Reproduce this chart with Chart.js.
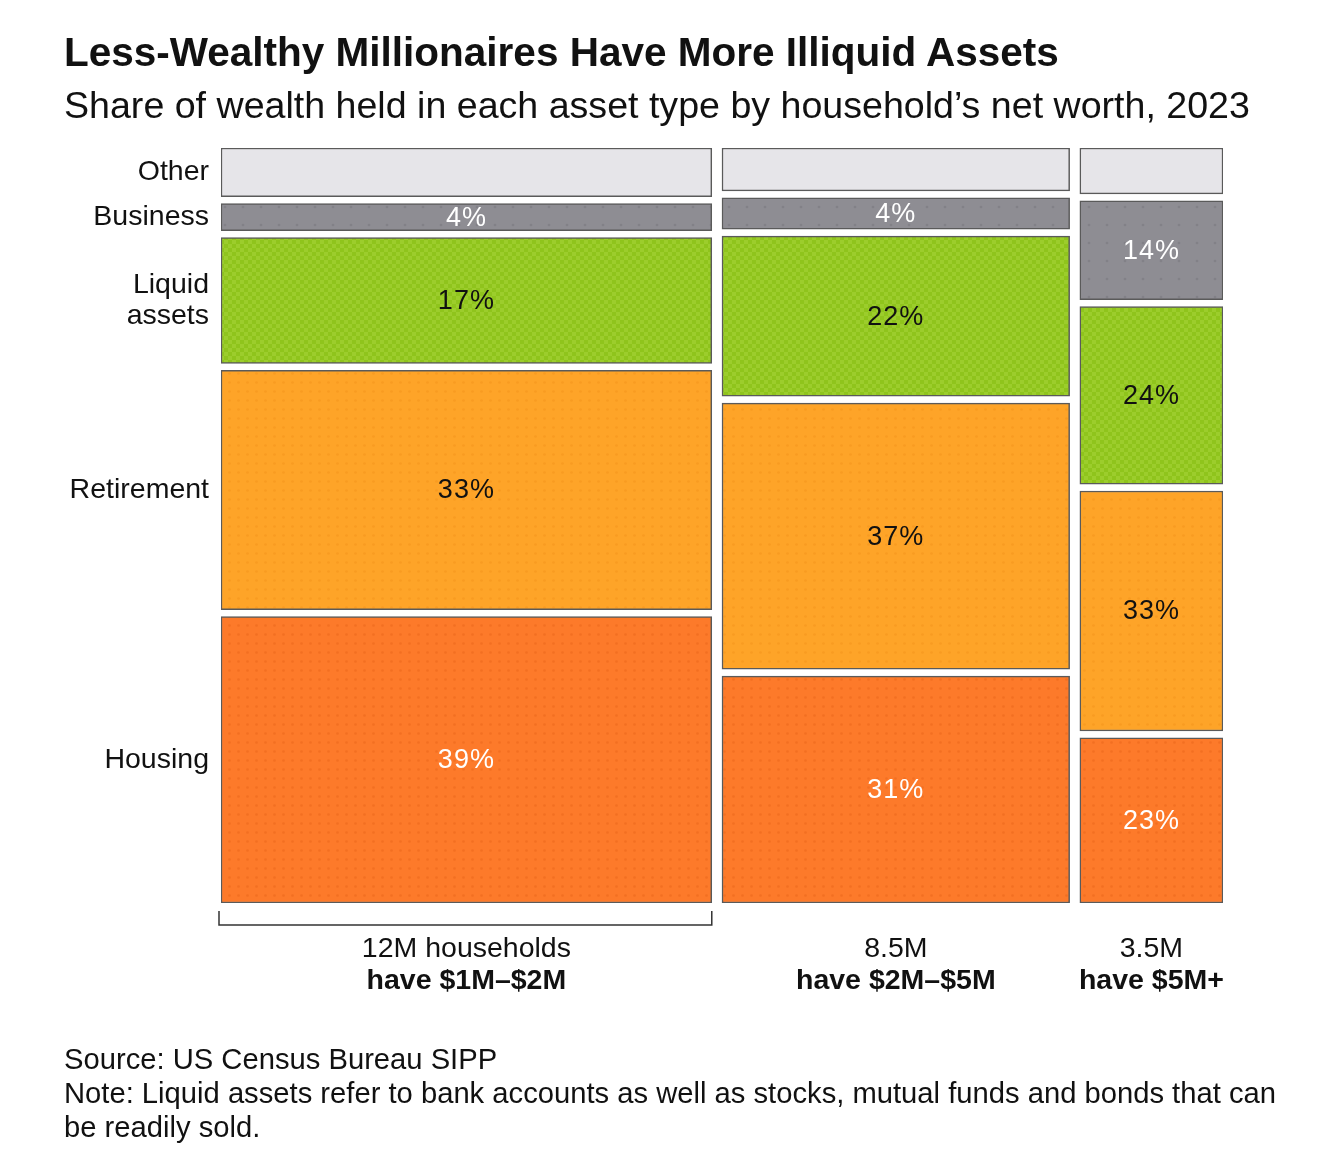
<!DOCTYPE html>
<html>
<head>
<meta charset="utf-8">
<script src="https://cdn.jsdelivr.net/npm/chart.js@4/dist/chart.umd.min.js"></script>
<style>
  html, body { margin: 0; padding: 0; background: #fff; }
  body { width: 1342px; height: 1172px; position: relative; overflow: hidden; font-family: 'Liberation Sans', Arial, sans-serif; color: #111; }
  #title { position: absolute; left: 64px; top: 30px; font-size: 40.5px; font-weight: bold; line-height: 44px; white-space: nowrap; }
  #subtitle { position: absolute; left: 64px; top: 84px; font-size: 37.6px; line-height: 42px; white-space: nowrap; }
  #notes { position: absolute; left: 64px; top: 1042px; font-size: 29.2px; line-height: 34px; white-space: nowrap; }
  #wrap { position: absolute; left: 0; top: 0; width: 1342px; height: 1172px; }
</style>
</head>
<body>
<div id="wrap"><canvas id="chart"></canvas></div>
<div id="title">Less-Wealthy Millionaires Have More Illiquid Assets</div>
<div id="subtitle">Share of wealth held in each asset type by household’s net worth, 2023</div>
<div id="notes">Source: US Census Bureau SIPP<br>Note: Liquid assets refer to bank accounts as well as stocks, mutual funds and bonds that can<br>be readily sold.</div>
<script>
// asset types, bottom to top
const assetTypes = ['Housing', 'Retirement', 'Liquid assets', 'Business', 'Other'];
const assetAxisLabels = ['Housing', 'Retirement', ['Liquid', 'assets'], 'Business', 'Other'];

// households in each wealth group (millions) -> column widths
const households = [12, 8.5, 3.5];
const householdLabels = ['12M households', '8.5M', '3.5M'];
const groupLabels = ['have $1M–$2M', 'have $2M–$5M', 'have $5M+'];

// share of wealth (%) per asset type, same order as assetTypes
const shares1to2 = [39.4, 32.9, 17.3, 3.7, 6.7];
const shares2to5 = [31.2, 36.6, 22.0, 4.3, 5.9];
const shares5plus = [22.7, 33.0, 24.4, 13.6, 6.3];
const columnShares = [shares1to2, shares2to5, shares5plus];

const GAP_X = 0.25;   // white gap between columns, in household units
const GAP_Y = 0.96;   // white gap between blocks, in % units

function makeFill(base, dot, kind) {
    const c = document.createElement('canvas');
    const s = kind === 'check' ? 8 : (kind === 'sparse' ? 18 : 9);
    c.width = c.height = s;
    const g = c.getContext('2d');
    g.fillStyle = base;
    g.fillRect(0, 0, s, s);
    g.fillStyle = dot;
    if (kind === 'check') {
        g.fillRect(0, 0, 4, 4);
        g.fillRect(4, 4, 4, 4);
    } else if (kind !== 'none') {
        g.beginPath();
        g.arc(s / 2, s / 2, 1.3, 0, Math.PI * 2);
        g.fill();
    }
    return g.createPattern(c, 'repeat');
}

const fills = [
    makeFill('#fd7a2a', '#f26f22', 'dots'),
    makeFill('#fea428', '#f89b22', 'dots'),
    makeFill('#8fc41c', '#9ccd2c', 'check'),
    makeFill('#8e8d93', '#828187', 'sparse'),
    makeFill('#e6e5e9', '#e6e5e9', 'none')
];
const labelColors = ['#ffffff', '#111111', '#111111', '#ffffff', null];

const colStarts = households.map((w, i) => households.slice(0, i).reduce((a, b) => a + b, 0) + i * GAP_X);
const colCenters = households.map((w, i) => colStarts[i] + w / 2);
const xMax = households.reduce((a, b) => a + b, 0) + (households.length - 1) * GAP_X;
const yMax = 100 + (assetTypes.length - 1) * GAP_Y;

function blocks(shares) {
    let acc = 0;
    return shares.map((v, k) => {
        const lo = acc + k * GAP_Y;
        acc += v;
        return [lo, lo + v];
    });
}

const datasets = columnShares.map((shares, i) => ({
    label: groupLabels[i],
    shares: shares,
    data: blocks(shares).map(r => ({ x: colCenters[i], y: r })),
    backgroundColor: fills,
    borderColor: '#5a5a5a',
    borderWidth: 1.5,
    borderSkipped: false,
    grouped: false
}));

const col1Centers = blocks(shares1to2).map(r => (r[0] + r[1]) / 2);

const widthFromScale = {
    id: 'widthFromScale',
    beforeDatasetsUpdate(chart) {
        const x = chart.scales.x;
        chart.data.datasets.forEach((ds, i) => {
            ds.barThickness = x.getPixelForValue(households[i]) - x.getPixelForValue(0);
        });
    }
};

const segmentLabels = {
    id: 'segmentLabels',
    afterDatasetsDraw(chart) {
        const ctx = chart.ctx;
        ctx.save();
        ctx.font = "27px 'Liberation Sans', Arial, sans-serif";
        ctx.letterSpacing = '1px';
        ctx.textAlign = 'center';
        ctx.textBaseline = 'middle';
        chart.data.datasets.forEach((ds, di) => {
            chart.getDatasetMeta(di).data.forEach((bar, i) => {
                if (!labelColors[i]) return;
                ctx.fillStyle = labelColors[i];
                ctx.fillText(Math.round(ds.shares[i]) + '%', bar.x, (bar.y + bar.base) / 2 + 1);
            });
        });
        ctx.restore();
    }
};

const bracket = {
    id: 'bracket',
    afterDraw(chart) {
        const ctx = chart.ctx;
        const x = chart.scales.x;
        const x0 = x.getPixelForValue(0) - 2;
        const x1 = x.getPixelForValue(households[0]);
        const top = chart.chartArea.bottom + 8;
        const y = chart.chartArea.bottom + 22;
        ctx.save();
        ctx.strokeStyle = '#333';
        ctx.lineWidth = 1.5;
        ctx.beginPath();
        ctx.moveTo(x0, top);
        ctx.lineTo(x0, y);
        ctx.lineTo(x1, y);
        ctx.lineTo(x1, top);
        ctx.stroke();
        ctx.restore();
    }
};

Chart.defaults.font.family = "'Liberation Sans', Arial, sans-serif";
Chart.defaults.color = '#111';

const centerTicks = axis => { axis.ticks = colCenters.map(v => ({ value: v })); };

new Chart(document.getElementById('chart'), {
    type: 'bar',
    data: { datasets: datasets },
    options: {
        responsive: true,
        maintainAspectRatio: false,
        animation: false,
        layout: { padding: { top: 148, right: 119, bottom: 168, left: 0 } },
        plugins: { legend: { display: false }, tooltip: { enabled: false } },
        scales: {
            x: {
                type: 'linear', position: 'bottom', min: 0, max: xMax, offset: false, weight: 0,
                grid: { display: false, drawTicks: false }, border: { display: false },
                afterBuildTicks: centerTicks,
                afterFit: s => { s.height = 63; },
                ticks: { autoSkip: false, maxRotation: 0, padding: 28.6, font: { size: 28.5 }, callback: (v, i) => householdLabels[i] }
            },
            x2: {
                type: 'linear', position: 'bottom', min: 0, max: xMax, offset: false, weight: 1,
                grid: { display: false, drawTicks: false }, border: { display: false },
                afterBuildTicks: centerTicks,
                afterFit: s => { s.height = 38; },
                ticks: { autoSkip: false, maxRotation: 0, padding: -2.4, font: { size: 28.5, weight: 'bold' }, callback: (v, i) => groupLabels[i] }
            },
            y: {
                type: 'linear', min: 0, max: yMax,
                grid: { display: false, drawTicks: false }, border: { display: false },
                afterBuildTicks: axis => { axis.ticks = col1Centers.map(v => ({ value: v })); },
                afterFit: s => { s.width = 221; },
                ticks: { autoSkip: false, padding: 12, font: { size: 28.5, lineHeight: 1.09 }, callback: (v, i) => assetAxisLabels[i] }
            }
        }
    },
    plugins: [widthFromScale, segmentLabels, bracket]
});
</script>
</body>
</html>
